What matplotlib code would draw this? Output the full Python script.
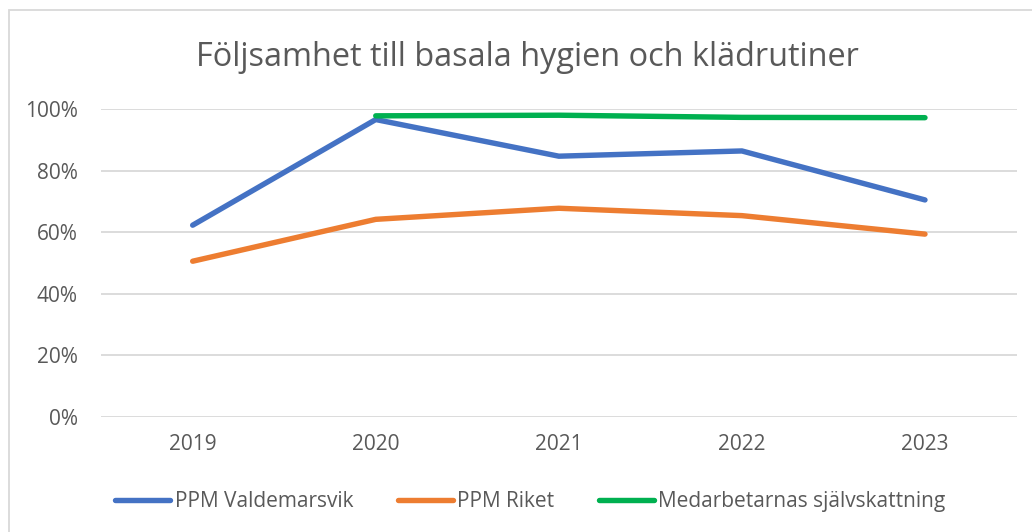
import numpy as np
import matplotlib.pyplot as plt
from matplotlib.patches import Rectangle

plt.rcParams['font.family'] = ['Open Sans', 'DejaVu Sans']

years = ['2019', '2020', '2021', '2022', '2023']
valdemarsvik = [0.623, 0.966, 0.847, 0.864, 0.705]
riket = [0.506, 0.642, 0.678, 0.654, 0.594]
# sjalvskattning saknas for 2019
sjalvskattning = [np.nan, 0.978, 0.980, 0.973, 0.972]

grey = '#595959'

fig = plt.figure(figsize=(10.32, 5.32), dpi=100)
ax = fig.add_axes([0.098, 0.216, 0.887, 0.579])

x = np.arange(len(years))
ax.plot(x, valdemarsvik, color='#4472C4', lw=3.9, solid_capstyle='round', label='PPM Valdemarsvik')
ax.plot(x, riket, color='#ED7D31', lw=3.9, solid_capstyle='round', label='PPM Riket')
ax.plot(x, sjalvskattning, color='#00B050', lw=3.9, solid_capstyle='round', label='Medarbetarnas självskattning')

ax.set_xlim(-0.5, len(years) - 0.5)
ax.set_ylim(0, 1)
ax.set_yticks(np.arange(0, 1.01, 0.2))
ax.set_yticklabels([f'{int(round(v*100))}%' for v in np.arange(0, 1.01, 0.2)])
ax.set_xticks(x)
ax.set_xticklabels(years)
ax.grid(axis='y', color='#D9D9D9', lw=1.3)
ax.set_axisbelow(True)
for s in ax.spines.values():
    s.set_visible(False)
ax.tick_params(length=0, labelsize=15, colors=grey)
ax.tick_params(axis='y', pad=17)
ax.tick_params(axis='x', pad=12)

fig.text(0.511, 0.892, 'Följsamhet till basala hygien och klädrutiner', ha='center', va='center',
         fontsize=23.4, color=grey)

leg = fig.legend(loc='center', bbox_to_anchor=(0.514, 0.057), ncol=3, frameon=False,
                 fontsize=15, handlelength=2.65, handletextpad=0.2, columnspacing=2.15)
for t in leg.get_texts():
    t.set_color(grey)

# ram runt diagrammet
fig.patches.append(Rectangle((9/1032, -0.1), 1.2, 1 - 10/532 + 0.1, transform=fig.transFigure,
                             fill=False, ec='#D9D9D9', lw=1.3))

plt.savefig('out.png')
